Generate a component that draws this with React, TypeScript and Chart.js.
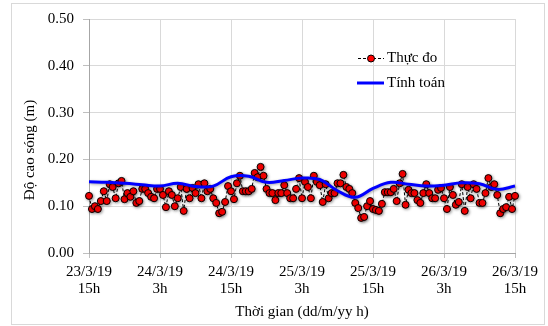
import { useEffect, useRef } from "react";
import { Chart, registerables } from "chart.js";

Chart.register(...registerables);

// ---- data ----
const xTickLabels: string[][] = [
  ["23/3/19", "15h"],
  ["24/3/19", "3h"],
  ["24/3/19", "15h"],
  ["25/3/19", "3h"],
  ["25/3/19", "15h"],
  ["26/3/19", "3h"],
  ["26/3/19", "15h"],
];
const xTickStepHours = 12;
const xMaxHours = 72;

const yMin = 0;
const yMax = 0.5;
const yStep = 0.1;

// measured wave height (m), every 30 minutes from 23/3/19 15h
const measuredStepHours = 0.5;
const measured: number[] = [
  0.122, 0.094, 0.100, 0.094, 0.111, 0.132, 0.111, 0.147, 0.141, 0.117,
  0.149, 0.154, 0.115, 0.128, 0.120, 0.132, 0.107, 0.111, 0.137, 0.137,
  0.128, 0.120, 0.117, 0.137, 0.137, 0.124, 0.098, 0.132, 0.124, 0.100,
  0.117, 0.141, 0.090, 0.137, 0.117, 0.139, 0.128, 0.147, 0.117, 0.149,
  0.132, 0.137, 0.117, 0.107, 0.085, 0.088, 0.109, 0.143, 0.132, 0.115,
  0.149,
  0.165, 0.132, 0.132, 0.132, 0.137, 0.171, 0.162, 0.184, 0.165, 0.137,
  0.128, 0.128, 0.113, 0.128, 0.128, 0.145, 0.128, 0.117, 0.117, 0.137,
  0.160, 0.117, 0.152, 0.141, 0.117, 0.165, 0.152, 0.145, 0.109, 0.147,
  0.117, 0.128, 0.128, 0.149, 0.149, 0.167, 0.141, 0.137, 0.128, 0.107,
  0.096, 0.075, 0.077, 0.100, 0.111, 0.094, 0.092, 0.090, 0.105, 0.130,
  0.130,
  0.130, 0.137, 0.111, 0.149, 0.169, 0.103, 0.135, 0.128, 0.128, 0.113,
  0.107, 0.128, 0.147, 0.128, 0.117, 0.117, 0.135, 0.139, 0.117, 0.094,
  0.141, 0.124, 0.103, 0.109, 0.147, 0.090, 0.141, 0.117, 0.147, 0.137,
  0.107, 0.107, 0.128, 0.160, 0.141, 0.147, 0.124, 0.085, 0.094, 0.098,
  0.120, 0.094, 0.122,
];

// computed wave height (m), every 3 hours from 23/3/19 15h
const computedStepHours = 3;
const computed: number[] = [
  0.152, 0.151, 0.149, 0.146, 0.143, 0.149, 0.142, 0.143, 0.163, 0.164,
  0.151, 0.155, 0.160, 0.157, 0.133, 0.119, 0.138, 0.151, 0.147, 0.143,
  0.145, 0.150, 0.148, 0.136, 0.143,
];

const seriesNames = ["Thực đo", "Tính toán"];
const xTitle = "Thời gian (dd/m/yy h)";
const yTitle = "Độ cao sóng (m)";

const FONT = "'Liberation Serif', 'Times New Roman', serif";

export default function App() {
  const ref = useRef<HTMLCanvasElement>(null);

  useEffect(() => {
    if (!ref.current) return;

    const shadowPlugin = {
      id: "softShadow",
      beforeDatasetDraw(chart: any) {
        const ctx = chart.ctx;
        ctx.save();
        ctx.shadowColor = "rgba(0,0,0,0.35)";
        ctx.shadowBlur = 3;
        ctx.shadowOffsetX = 1;
        ctx.shadowOffsetY = 1;
      },
      afterDatasetDraw(chart: any) {
        chart.ctx.restore();
      },
    };

    const chromePlugin = {
      id: "chrome",
      beforeDraw(chart: any) {
        const ctx = chart.ctx;
        ctx.save();
        ctx.fillStyle = "#ffffff";
        ctx.fillRect(0, 0, chart.width, chart.height);
        ctx.strokeStyle = "#d9d9d9";
        ctx.lineWidth = 1;
        ctx.strokeRect(11.5, 3.5, 533, 321);
        ctx.restore();
      },
      afterDraw(chart: any) {
        const ctx = chart.ctx;
        ctx.save();
        // y title
        ctx.font = `15px ${FONT}`;
        ctx.fillStyle = "#000";
        ctx.textAlign = "center";
        ctx.textBaseline = "middle";
        ctx.translate(30, 150);
        ctx.rotate(-Math.PI / 2);
        ctx.fillText(yTitle, 0, 0);
        ctx.restore();

        // legend
        ctx.save();
        ctx.strokeStyle = "#000";
        ctx.lineWidth = 1;
        ctx.setLineDash([3, 2]);
        ctx.beginPath();
        ctx.moveTo(358, 58.5);
        ctx.lineTo(384, 58.5);
        ctx.stroke();
        ctx.setLineDash([]);
        ctx.beginPath();
        ctx.arc(371, 58.5, 3.5, 0, Math.PI * 2);
        ctx.fillStyle = "#ff0000";
        ctx.fill();
        ctx.stroke();
        ctx.strokeStyle = "#0000ff";
        ctx.lineWidth = 3;
        ctx.beginPath();
        ctx.moveTo(357, 83);
        ctx.lineTo(384, 83);
        ctx.stroke();
        ctx.font = `15px ${FONT}`;
        ctx.fillStyle = "#000";
        ctx.textAlign = "left";
        ctx.textBaseline = "middle";
        ctx.fillText(seriesNames[0], 387, 58);
        ctx.fillText(seriesNames[1], 387, 83);
        ctx.restore();
      },
    };

    const chart = new Chart(ref.current, {
      type: "line",
      data: {
        datasets: [
          {
            label: seriesNames[0],
            data: measured.map((v, i) => ({ x: i * measuredStepHours, y: v })),
            borderColor: "#000000",
            borderWidth: 1,
            borderDash: [3, 2],
            pointRadius: 3.5,
            pointBackgroundColor: "#ff0000",
            pointBorderColor: "#000000",
            pointBorderWidth: 1,
            tension: 0,
            order: 2,
            clip: 8,
          },
          {
            label: seriesNames[1],
            data: computed.map((v, i) => ({ x: i * computedStepHours, y: v })),
            borderColor: "#0000ff",
            borderWidth: 3,
            pointRadius: 0,
            tension: 0.4,
            order: 1,
            clip: 8,
          },
        ],
      },
      options: {
        responsive: false,
        animation: false,
        devicePixelRatio: 1,
        layout: { padding: { left: 0, right: 33, top: 19, bottom: 0 } },
        plugins: {
          legend: { display: false },
          tooltip: { enabled: false },
        },
        scales: {
          x: {
            type: "linear",
            min: 0,
            max: xMaxHours,
            afterFit(scale: any) {
              scale.height = 73;
            },
            ticks: {
              stepSize: xTickStepHours,
              autoSkip: false,
              maxRotation: 0,
              padding: 5,
              color: "#000",
              font: { family: FONT, size: 15, lineHeight: 1.15 },
              callback: (v: any) => xTickLabels[Math.round(Number(v) / xTickStepHours)],
            },
            grid: { color: "#d9d9d9", tickLength: 5, tickColor: "#bfbfbf" },
            border: { color: "#a6a6a6" },
            title: {
              display: true,
              text: xTitle,
              color: "#000",
              font: { family: FONT, size: 15, lineHeight: 1.2 },
              padding: { top: 0, bottom: 5 },
            },
          },
          y: {
            min: yMin,
            max: yMax,
            afterFit(scale: any) {
              scale.width = 89;
            },
            ticks: {
              stepSize: yStep,
              padding: 9,
              color: "#000",
              font: { family: FONT, size: 15 },
              callback: (v: any) => Number(v).toFixed(2),
            },
            grid: { color: "#d9d9d9", tickLength: 6, tickColor: "#bfbfbf" },
            border: { color: "#a6a6a6" },
          },
        },
      },
      plugins: [shadowPlugin, chromePlugin],
    } as any);

    return () => chart.destroy();
  }, []);

  return (
    <div style={{ position: "absolute", left: 0, top: 0, width: 548, height: 326 }}>
      <canvas ref={ref} width={548} height={326} />
    </div>
  );
}
